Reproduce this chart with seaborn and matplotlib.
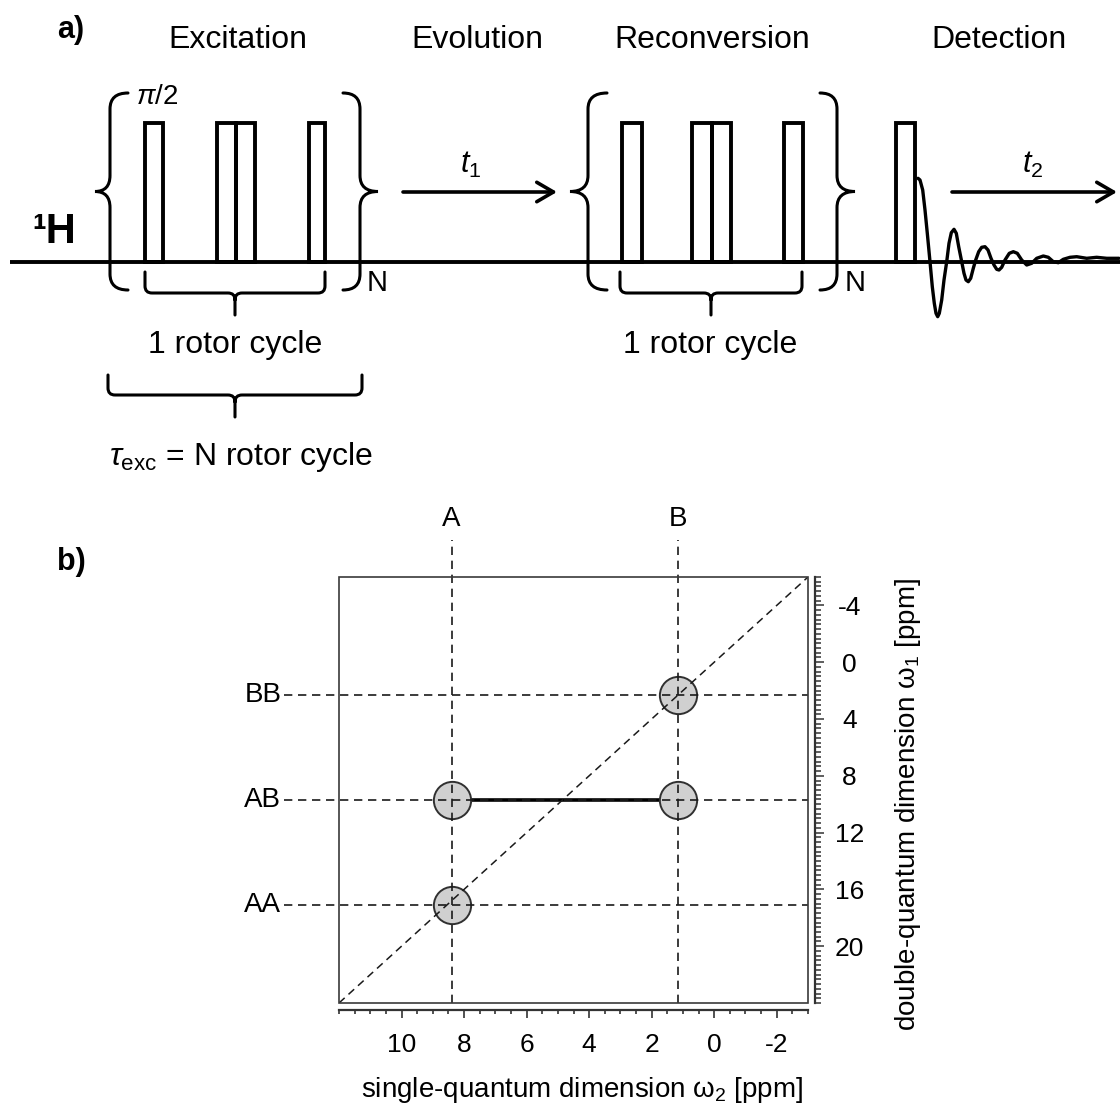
import numpy as np
import pandas as pd
import matplotlib
matplotlib.use("Agg")
import matplotlib.pyplot as plt
import seaborn as sns
from matplotlib.path import Path
from matplotlib.patches import PathPatch, Rectangle
from matplotlib.ticker import FixedLocator, MultipleLocator

# ---------------- data: panel a (pulse sequence, diagram units) ----------------
stage_names = ["Excitation", "Evolution", "Reconversion", "Detection"]
stage_x = [238, 477, 712, 999]
pulse_left = [145, 217, 236, 309, 622, 692, 712, 784, 896]
pulse_width = [18, 19, 19, 16, 20, 20, 19, 19, 19]
pulse_top = 123
baseline_y = 262
fid_x = [918, 920, 922.7, 925, 927.3, 930, 932.3, 934.3, 936, 937.7, 939.3, 941.7,
         944, 946.7, 949, 951.3, 954, 956.3, 958.7, 961.7, 964, 966, 968.3, 970.7,
         973.3, 975.7, 978.7, 981.7, 985, 988, 991, 994, 996.7, 999, 1001.7, 1005,
         1009.3, 1013.3, 1017.3, 1021.7, 1026.7, 1031.7, 1036.7, 1043.3, 1048.3,
         1053.3, 1058.3, 1063.3, 1070, 1076.7, 1086.7, 1096.7, 1106.7, 1119]
fid_y = [178.3, 180, 190, 210, 233.3, 261.7, 286.7, 303.3, 313.3, 316.7, 313.3, 300,
         280, 261.7, 243.3, 232.7, 229.3, 233.3, 246.7, 261.7, 273.3, 280, 281.7, 278.3,
         268.3, 260, 251.7, 247.3, 246.7, 250, 258.3, 265, 269.3, 270, 267.3, 260,
         253.3, 251.7, 253.3, 260, 265, 263.3, 258.3, 256, 257.3,
         261.7, 262.7, 259.3, 257.3, 256.7, 258.3, 257.3, 258.3, 258.3]

# ---------------- data: panel b (2D DQ-SQ map) ----------------
site_labels = ["A", "B"]
site_shift = [8.4, 1.15]
row_labels = ["BB", "AB", "AA"]
row_dq = [2.3, 9.7, 17.1]
peak_sq = [1.15, 8.4, 1.15, 8.4]
peak_dq = [2.3, 9.7, 9.7, 17.1]
sq_limits = [12, -3]
dq_limits = [24, -6]
sq_ticks = [10, 8, 6, 4, 2, 0, -2]
dq_ticks = [-4, 0, 4, 8, 12, 16, 20]

# ---------------- style ----------------
sns.set_theme(style="white")
plt.rcParams["font.family"] = ["Liberation Sans", "DejaVu Sans"]
plt.rcParams["mathtext.fontset"] = "custom"
plt.rcParams["mathtext.rm"] = "Liberation Sans"
plt.rcParams["mathtext.it"] = "Liberation Sans:italic"
plt.rcParams["mathtext.bf"] = "Liberation Sans:bold"
plt.rcParams["axes.unicode_minus"] = False
plt.rcParams["text.color"] = "black"
plt.rcParams["axes.labelcolor"] = "black"
plt.rcParams["xtick.color"] = "black"
plt.rcParams["ytick.color"] = "black"

W, H = 1120, 1105
fig = plt.figure(figsize=(W / 100, H / 100), dpi=100)
fig.patch.set_facecolor("white")

# ================= panel a =================
axa = fig.add_axes([0, 0, 1, 1])
axa.set_xlim(0, W)
axa.set_ylim(H, 0)
axa.axis("off")

LW = 2.8
axa.plot([10, 1120], [baseline_y, baseline_y], color="black", lw=LW, solid_capstyle="butt")
for xl, w in zip(pulse_left, pulse_width):
    axa.add_patch(Rectangle((xl, pulse_top), w, baseline_y - pulse_top, fill=False,
                            ec="black", lw=LW, joinstyle="miter"))

sns.lineplot(x=fid_x, y=fid_y, sort=False, estimator=None, color="black", lw=2.4, ax=axa)


def vbrace(ax, x, y0, y1, tip, hook, r=16, lw=2.2):
    ym = (y0 + y1) / 2
    verts = [(hook, y0), (x, y0), (x, y0 + r), (x, ym - r), (x, ym), (tip, ym),
             (x, ym), (x, ym + r), (x, y1 - r), (x, y1), (hook, y1)]
    codes = [Path.MOVETO, Path.CURVE3, Path.CURVE3, Path.LINETO, Path.CURVE3, Path.CURVE3,
             Path.CURVE3, Path.CURVE3, Path.LINETO, Path.CURVE3, Path.CURVE3]
    ax.add_patch(PathPatch(Path(verts, codes), fill=False, lw=lw, ec="black", capstyle="round"))


def hbrace(ax, x0, x1, ytop, ybar, ytip, r=7, lw=2.2):
    xc = (x0 + x1) / 2
    verts = [(x0, ytop), (x0, ybar - r), (x0, ybar), (x0 + r, ybar), (xc - r, ybar),
             (xc, ybar), (xc, ybar + r), (xc, ytip),
             (xc, ybar + r), (xc, ybar), (xc + r, ybar), (x1 - r, ybar), (x1, ybar),
             (x1, ybar - r), (x1, ytop)]
    codes = [Path.MOVETO, Path.LINETO, Path.CURVE3, Path.CURVE3, Path.LINETO,
             Path.CURVE3, Path.CURVE3, Path.LINETO,
             Path.MOVETO, Path.CURVE3, Path.CURVE3, Path.LINETO, Path.CURVE3,
             Path.CURVE3, Path.LINETO]
    ax.add_patch(PathPatch(Path(verts, codes), fill=False, lw=lw, ec="black", capstyle="round"))


vbrace(axa, 110, 93, 290, 95, 128)
vbrace(axa, 360, 93, 290, 378, 343)
vbrace(axa, 588, 93, 290, 570, 607)
vbrace(axa, 837, 93, 290, 855, 820)
hbrace(axa, 145, 325, 272, 293, 315)
hbrace(axa, 620, 802, 272, 293, 315)
hbrace(axa, 108, 362, 375, 395, 417)

TXT = 23
axa.text(71, 30, "a)", fontsize=22, fontweight="bold", ha="center", va="center")
axa.text(71, 562, "b)", fontsize=22, fontweight="bold", ha="center", va="center")
for name, x in zip(stage_names, stage_x):
    axa.text(x, 40, name, fontsize=TXT, ha="center", va="center")
axa.text(157, 97, r"$\mathit{π/}\mathrm{2}$", fontsize=20, ha="center", va="center")
axa.text(54, 232, "¹H", fontsize=30, fontweight="bold", ha="center", va="center")
axa.text(377, 283, "N", fontsize=21, ha="center", va="center")
axa.text(855, 283, "N", fontsize=21, ha="center", va="center")
axa.text(235, 345, "1 rotor cycle", fontsize=TXT, ha="center", va="center")
axa.text(710, 345, "1 rotor cycle", fontsize=TXT, ha="center", va="center")
axa.text(241, 457, r"$\mathit{τ}_{\mathrm{exc}}$ = N rotor cycle", fontsize=TXT,
         ha="center", va="center")
axa.text(471, 165, r"$\mathit{t}_{\mathrm{1}}$", fontsize=22, ha="center", va="center")
axa.text(1033, 165, r"$\mathit{t}_{\mathrm{2}}$", fontsize=22, ha="center", va="center")
arrow = dict(arrowstyle="->,head_length=0.6,head_width=0.35", lw=2.6, color="black",
             shrinkA=0, shrinkB=0, mutation_scale=20)
axa.annotate("", xy=(557, 192), xytext=(403, 192), arrowprops=arrow)
axa.annotate("", xy=(1117, 192), xytext=(952, 192), arrowprops=arrow)

# ================= panel b =================
axb = fig.add_axes([339 / W, 1 - 1003 / H, (808 - 339) / W, (1003 - 577) / H])
axb.set_facecolor("none")
axb.set_xlim(*sq_limits)
axb.set_ylim(*dq_limits)

peaks = pd.DataFrame({"sq": peak_sq, "dq": peak_dq})
link = pd.DataFrame({"sq": peak_sq[1:3], "dq": peak_dq[1:3]})
sns.lineplot(data=link, x="sq", y="dq", sort=False, estimator=None, color="black",
             lw=2.6, ax=axb, zorder=2)
sns.scatterplot(data=peaks, x="sq", y="dq", s=720, color="#d0d0d0", edgecolor="#303030",
                linewidth=1.4, ax=axb, zorder=3, legend=False)

dash = (0, (5, 3.4))
diag_x = np.array(sq_limits, dtype=float)
axb.plot(diag_x, 2 * diag_x, color="#1a1a1a", lw=1.1, ls=dash, zorder=4)
for lab, x in zip(site_labels, site_shift):
    axb.axvline(x, ymin=0, ymax=1.087, color="#1a1a1a", lw=1.2, ls=dash, clip_on=False, zorder=4)
    axb.text(x, 1.136, lab, transform=axb.get_xaxis_transform(), fontsize=20,
             ha="center", va="center")
for lab, y in zip(row_labels, row_dq):
    axb.axhline(y, xmin=-0.118, xmax=1.0, color="#1a1a1a", lw=1.2, ls=dash, clip_on=False, zorder=4)
    axb.text(-0.123, y, lab, transform=axb.get_yaxis_transform(), fontsize=20,
             ha="right", va="center")

axb.add_patch(Rectangle((0, 0), 1, 1, transform=axb.transAxes, fill=False, lw=1.2,
                        ec="#3a3a3a", clip_on=False, zorder=5))
for s in ["top", "left"]:
    axb.spines[s].set_visible(False)
for s in ["bottom", "right"]:
    axb.spines[s].set_visible(True)
    axb.spines[s].set_position(("outward", 5.3))
    axb.spines[s].set_linewidth(1.6)
    axb.spines[s].set_color("#333333")

axb.xaxis.set_major_locator(FixedLocator(sq_ticks))
axb.xaxis.set_minor_locator(MultipleLocator(0.5))
axb.yaxis.tick_right()
axb.yaxis.set_label_position("right")
axb.yaxis.set_major_locator(FixedLocator(dq_ticks))
axb.yaxis.set_minor_locator(MultipleLocator(1 / 3))
axb.tick_params(axis="x", which="both", bottom=True, top=False, direction="out",
                color="#333333", width=1.2)
axb.tick_params(axis="x", which="major", length=5.5, pad=11, labelsize=19)
axb.tick_params(axis="x", which="minor", length=3.2)
axb.tick_params(axis="y", which="both", right=True, left=False, labelright=True,
                labelleft=False, direction="out", color="#333333", width=1.1)
axb.tick_params(axis="y", which="major", length=6.5, pad=18, labelsize=19)
axb.tick_params(axis="y", which="minor", length=4)
for lbl in axb.get_yticklabels():
    lbl.set_horizontalalignment("center")

axb.set_xlabel(r"single-quantum dimension $\mathregular{ω_2}$ [ppm]", fontsize=20)
axb.set_ylabel(r"double-quantum dimension $\mathregular{ω_1}$ [ppm]", fontsize=20)
axb.xaxis.set_label_coords(0.518, -0.168)
axb.yaxis.set_label_coords(1.181, 0.465)

fig.savefig("out.png", dpi=100, facecolor="white")
